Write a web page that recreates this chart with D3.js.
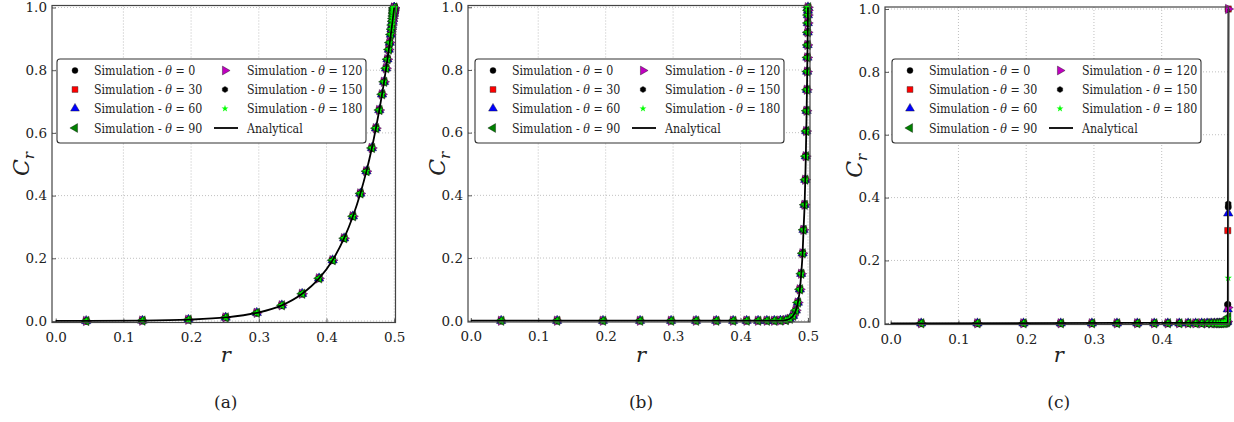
<!DOCTYPE html>
<html><head><meta charset="utf-8">
<script src="https://cdn.jsdelivr.net/npm/d3@7"></script>
<style>
body{margin:0;background:#fff;}
svg{display:block;}
</style></head>
<body><svg id="chart" width="1234" height="422"></svg>
<script>
// ---------------- data ----------------
const thetas = [0, 30, 60, 90, 120, 150, 180];
const xTickVals = [0.0, 0.1, 0.2, 0.3, 0.4, 0.5];
const xTickValsC = [0.0, 0.1, 0.2, 0.3, 0.4];
const yTickVals = [0.0, 0.2, 0.4, 0.6, 0.8, 1.0];
const captions = ["(a)", "(b)", "(c)"];

// radial nodes of the simulation
const rNodes = [0.045, 0.128, 0.196, 0.251, 0.297, 0.334, 0.364, 0.389, 0.409, 0.426,
  0.439, 0.450, 0.459, 0.467, 0.473, 0.478, 0.482, 0.485, 0.488, 0.490,
  0.492, 0.4934, 0.495, 0.496, 0.4968, 0.4975, 0.498, 0.4985, 0.49885, 0.49913,
  0.49936, 0.49958, 0.49974, 0.49987, 0.49995, 0.5];

// panel (a): C_r at nodes
const simA = [0.0003, 0.0012, 0.0042, 0.0113, 0.026, 0.050, 0.087, 0.136, 0.194, 0.264,
  0.334, 0.407, 0.478, 0.552, 0.615, 0.673, 0.723, 0.763, 0.806, 0.835,
  0.866, 0.888, 0.914, 0.931, 0.944, 0.956, 0.965, 0.973, 0.980, 0.984,
  0.989, 0.992, 0.995, 0.998, 0.999, 1.0];
// panel (b)
const simB = [0, 0, 0, 0, 0, 0, 0, 0, 0, 0,
  0, 0.0001, 0.0004, 0.0019, 0.006, 0.016, 0.033, 0.058, 0.10, 0.15,
  0.215, 0.29, 0.37, 0.45, 0.525, 0.605, 0.67, 0.737, 0.795, 0.84,
  0.88, 0.92, 0.95, 0.975, 0.99, 1.0];
// panel (c): nodes up to the wall region, then per-theta near-wall values
const rNodesC = [0.045, 0.128, 0.196, 0.251, 0.297, 0.334, 0.364, 0.389, 0.409, 0.426,
  0.439, 0.450, 0.459, 0.467, 0.473, 0.478, 0.482, 0.485, 0.488, 0.490,
  0.492, 0.4934, 0.495, 0.496, 0.4968];
const simCBase = [0, 0, 0, 0, 0, 0, 0, 0, 0, 0,
  0, 0, 0, 0, 0, 0, 0, 0, 0, 0.001,
  0.001, 0.002, 0.003, 0.004, 0.006];
const rTailC = [0.4975, 0.4982];
const tailC0   = [0.06, 0.37];
const tailC30  = [0.295, 1.0];
const tailC60  = [0.045, 0.35];
const tailC90  = [0.012, 0.02];
const tailC120 = [0.05, 1.0];
const tailC150 = [0.06, 0.38];
const tailC180 = [0.015, 0.144];
const tailsC = [tailC0, tailC30, tailC60, tailC90, tailC120, tailC150, tailC180];

// analytical curves
const anaR = [0.0, 0.02].concat(rNodes);
const anaA = [0.0001, 0.0002].concat(simA);
const anaB = [0, 0].concat(simB);
const anaRC = [0.0, 0.4975, 0.4986];
const anaC = [0.0, 0.002, 1.0];

// ---------------- styles ----------------
const FONT = "'DejaVu Serif', 'Liberation Serif', 'Noto Serif', serif";
const seriesStyle = [
  {color: "#000000", shape: "circle"},
  {color: "#ff0000", shape: "square"},
  {color: "#0000ff", shape: "triUp"},
  {color: "#008000", shape: "triLeft"},
  {color: "#c000c0", shape: "triRight"},
  {color: "#000000", shape: "hexagon"},
  {color: "#00ff00", shape: "star"}
];
const drawOrder = [0, 1, 2, 4, 5, 3, 6];

const panels = [
  {left: 52, right: 395.5, top: 5.5, bottom: 322.5, xDom: [-0.00547, 0.5019], yDom: [-0.0048, 1.0064],
   xt: xTickVals, legendX: 57, cap: 0},
  {left: 468, right: 810, top: 5.5, bottom: 322, xDom: [-0.00415, 0.503], yDom: [-0.0041, 1.0057],
   xt: xTickVals, legendX: 475, cap: 1},
  {left: 885, right: 1228.5, top: 7, bottom: 324.5, xDom: [-0.0084, 0.4986], yDom: [-0.0038, 1.0064],
   xt: xTickValsC, legendX: 892, cap: 2}
];

const svg = d3.select("#chart");

function markerPath(shape, s) {
  const h = s / 2;
  switch (shape) {
    case "circle": return d3.symbol(d3.symbolCircle, Math.PI * h * h * 0.85)();
    case "square": return d3.symbol(d3.symbolSquare, s * s * 0.8)();
    case "triUp": case "triLeft": case "triRight": return d3.symbol(d3.symbolTriangle, s * s * 0.8)();
    case "hexagon": {
      const pts = d3.range(6).map(i => [h * 0.95 * Math.cos(Math.PI / 3 * i + Math.PI / 6), h * 0.95 * Math.sin(Math.PI / 3 * i + Math.PI / 6)]);
      return d3.line()(pts) + "Z";
    }
    case "star": return d3.symbol(d3.symbolStar, s * s * 0.35)();
  }
}
function markerRot(shape) {
  return shape === "triLeft" ? -90 : shape === "triRight" ? 90 : 0;
}

function drawMarker(g, x, y, st, size) {
  g.append("path")
    .attr("d", markerPath(st.shape, size))
    .attr("transform", `translate(${x},${y}) rotate(${markerRot(st.shape)})`)
    .attr("fill", st.color)
    .attr("stroke", st.shape === "star" ? "none" : "#111")
    .attr("stroke-width", 0.4);
}

function txt(sel) {
  return sel.style("font-family", FONT).attr("fill", "#222");
}

panels.forEach((p, pi) => {
  const x = d3.scaleLinear().domain(p.xDom).range([p.left, p.right]);
  const y = d3.scaleLinear().domain(p.yDom).range([p.bottom, p.top]);
  const g = svg.append("g");

  // grid
  const gridX = p.xt.filter(v => v > 0);
  g.selectAll(".gx").data(gridX).enter().append("line")
    .attr("x1", d => x(d)).attr("x2", d => x(d)).attr("y1", p.top).attr("y2", p.bottom)
    .attr("stroke", "#b0b0b0").attr("stroke-width", 0.8).attr("stroke-dasharray", "1,2");
  g.selectAll(".gy").data(yTickVals).enter().append("line")
    .attr("x1", p.left).attr("x2", p.right).attr("y1", d => y(d)).attr("y2", d => y(d))
    .attr("stroke", "#b0b0b0").attr("stroke-width", 0.8).attr("stroke-dasharray", "1,2");

  // axes
  const ax = g.append("g").attr("transform", `translate(0,${p.bottom})`)
    .call(d3.axisBottom(x).tickValues(p.xt).tickFormat(d3.format(".1f")).tickSize(-4).tickPadding(7));
  const ay = g.append("g").attr("transform", `translate(${p.left},0)`)
    .call(d3.axisLeft(y).tickValues(yTickVals).tickFormat(d3.format(".1f")).tickSize(-4).tickPadding(5));
  [ax, ay].forEach(a => {
    a.attr("font-family", null);
    a.select(".domain").remove();
    a.selectAll(".tick line").attr("stroke", "#333").attr("stroke-width", 0.8);
    txt(a.selectAll(".tick text")).style("font-size", "13.5px");
  });
  ax.selectAll(".tick text").attr("dy", "0.9em");

  // simulation markers
  drawOrder.forEach(si => {
    const st = seriesStyle[si];
    let pts;
    if (pi === 0) pts = rNodes.map((r, i) => [r, simA[i]]);
    else if (pi === 1) pts = rNodes.map((r, i) => [r, simB[i]]);
    else pts = rNodesC.map((r, i) => [r, simCBase[i]]).concat(rTailC.map((r, i) => [r, tailsC[si][i]]));
    pts.forEach(d => drawMarker(g, x(d[0]), y(d[1]), st, 7));
  });

  // analytical line
  const lineGen = d3.line().x(d => x(d[0])).y(d => y(d[1])).curve(d3.curveMonotoneX);
  let ana;
  if (pi === 0) ana = anaR.map((r, i) => [r, anaA[i]]);
  else if (pi === 1) ana = anaR.map((r, i) => [r, anaB[i]]);
  else ana = anaRC.map((r, i) => [r, anaC[i]]);
  g.append("path").attr("d", pi === 2 ? d3.line().x(d => x(d[0])).y(d => y(d[1]))(ana) : lineGen(ana))
    .attr("fill", "none").attr("stroke", "#000").attr("stroke-width", 1.8);

  // frame
  g.append("rect").attr("x", p.left).attr("y", p.top)
    .attr("width", p.right - p.left).attr("height", p.bottom - p.top)
    .attr("fill", "none").attr("stroke", "#444").attr("stroke-width", 1.2);

  // axis titles
  const cx = (p.left + p.right) / 2 + 2;
  txt(g.append("text")).attr("x", cx).attr("y", 362).attr("text-anchor", "middle")
    .style("font-size", "21px").style("font-style", "italic").text("r");
  const yt = txt(g.append("text")).attr("transform", `translate(${p.left - 23},${(p.top + p.bottom) / 2}) rotate(-90)`)
    .attr("text-anchor", "middle").style("font-size", "22px").style("font-style", "italic");
  yt.append("tspan").text("C");
  yt.append("tspan").attr("dy", 5).style("font-size", "15px").text("r");
  txt(g.append("text")).attr("x", cx).attr("y", 408).attr("text-anchor", "middle")
    .style("font-size", "17px").text(captions[p.cap]);

  // legend
  const lx = p.legendX, ly = 59;
  const lg = g.append("g");
  lg.append("rect").attr("x", lx).attr("y", ly).attr("width", 309).attr("height", 84)
    .attr("rx", 3).attr("fill", "#fff").attr("stroke", "#333").attr("stroke-width", 1.1);
  const rowY = [70.5, 89.5, 108.5, 128];
  const items = thetas.map((th, i) => ({label: th, style: seriesStyle[i]})).concat([{label: null}]);
  const sx = 0.85;
  items.forEach((it, i) => {
    const col = i < 4 ? 0 : 1;
    const row = i % 4;
    const yy = rowY[row];
    const mx = lx + (col === 0 ? 18 : 168);
    const tx = lx + (col === 0 ? 37 : 190);
    if (it.label === null) {
      lg.append("line").attr("x1", lx + 157).attr("x2", lx + 181).attr("y1", yy).attr("y2", yy)
        .attr("stroke", "#000").attr("stroke-width", 1.8);
      txt(lg.append("text")).attr("transform", `translate(${lx + 190},${yy + 4.5}) scale(${sx},1)`)
        .style("font-size", "13px").text("Analytical");
    } else {
      drawMarker(lg, mx, yy, it.style, 6.5);
      const t = txt(lg.append("text")).attr("transform", `translate(${tx},${yy + 4.5}) scale(${sx},1)`)
        .style("font-size", "13px");
      t.append("tspan").text("Simulation - ");
      t.append("tspan").style("font-style", "italic").text("θ");
      t.append("tspan").text(" = " + it.label);
    }
  });
});
</script></body></html>
